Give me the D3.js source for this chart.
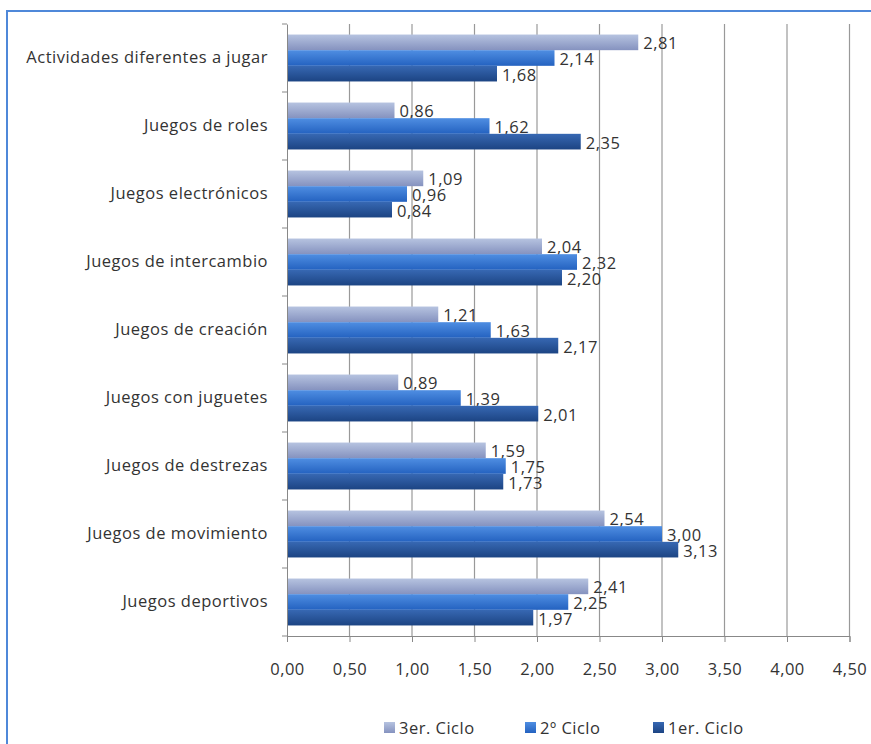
<!DOCTYPE html>
<html>
<head>
<meta charset="utf-8">
<script src="https://cdn.jsdelivr.net/npm/d3@7"></script>
<style>
  body { margin: 0; background: #fff; }
  text { font-family: "Open Sans", sans-serif; fill: #333; letter-spacing: 0.5px; }
</style>
</head>
<body>
<svg id="chart" width="871" height="744"></svg>
<script>
// categories, top to bottom
var categories = [
  "Actividades diferentes a jugar",
  "Juegos de roles",
  "Juegos electrónicos",
  "Juegos de intercambio",
  "Juegos de creación",
  "Juegos con juguetes",
  "Juegos de destrezas",
  "Juegos de movimiento",
  "Juegos deportivos"
];
var seriesNames = ["3er. Ciclo", "2º Ciclo", "1er. Ciclo"];
var tercerCiclo = [2.81, 0.86, 1.09, 2.04, 1.21, 0.89, 1.59, 2.54, 2.41];
var segundoCiclo = [2.14, 1.62, 0.96, 2.32, 1.63, 1.39, 1.75, 3.00, 2.25];
var primerCiclo = [1.68, 2.35, 0.84, 2.20, 2.17, 2.01, 1.73, 3.13, 1.97];
var xTicks = [0, 0.5, 1, 1.5, 2, 2.5, 3, 3.5, 4, 4.5];

var series = [tercerCiclo, segundoCiclo, primerCiclo];
var colors = [
  ["#b6c3e0", "#8592bf"],
  ["#4f8ee2", "#2462c0"],
  ["#3768b3", "#1c4483"]
];

var svg = d3.select('#chart');
var fmt = function(v) { return d3.format('.2f')(v).replace('.', ','); };

// frame
svg.append('rect')
    .attr('x', 7).attr('y', 11)
    .attr('width', 900).attr('height', 800)
    .attr('fill', 'none')
    .attr('stroke', '#4f88d9')
    .attr('stroke-width', 2);

var plotLeft = 287, plotRight = 849.5, plotTop = 24, plotBottom = 636;

var x = d3.scaleLinear().domain([0, 4.5]).range([plotLeft, plotRight]);
var y = d3.scaleBand().domain(categories).range([plotTop, plotBottom])
    .paddingInner(0.31).paddingOuter(0.155);
var ySub = d3.scaleBand().domain(d3.range(3)).range([0, y.bandwidth()]);

// gradients
var defs = svg.append('defs');
colors.forEach(function(c, i) {
  var g = defs.append('linearGradient')
      .attr('id', 'grad' + i)
      .attr('x1', 0).attr('y1', 0).attr('x2', 0).attr('y2', 1);
  g.append('stop').attr('offset', '0%').attr('stop-color', c[0]);
  g.append('stop').attr('offset', '100%').attr('stop-color', c[1]);
});

// gridlines
svg.append('g').selectAll('line')
    .data(xTicks.slice(1))
    .enter().append('line')
    .attr('x1', function(d) { return x(d); })
    .attr('x2', function(d) { return x(d); })
    .attr('y1', plotTop).attr('y2', plotBottom)
    .attr('stroke', '#999')
    .attr('stroke-width', 1.2);

// bars
var groups = svg.append('g').selectAll('g')
    .data(categories)
    .enter().append('g')
    .attr('transform', function(d) { return 'translate(0,' + y(d) + ')'; });

series.forEach(function(values, si) {
  groups.append('rect')
      .attr('x', x(0))
      .attr('y', ySub(si))
      .attr('width', function(d, i) { return x(values[i]) - x(0); })
      .attr('height', ySub.bandwidth())
      .attr('fill', 'url(#grad' + si + ')');

  groups.append('text')
      .attr('x', function(d, i) { return x(values[i]) + 5; })
      .attr('y', ySub(si) + ySub.bandwidth() / 2 + 7)
      .attr('font-size', 16.5)
      .text(function(d, i) { return fmt(values[i]); });
});

// y axis
var yAxis = svg.append('g')
    .attr('transform', 'translate(' + plotLeft + ',0)')
    .call(d3.axisLeft(y).tickSize(0).tickPadding(19));
yAxis.select('.domain').attr('stroke', '#888');
yAxis.selectAll('text').attr('font-size', 16.5).attr('fill', '#333')
    .attr('font-family', '"Open Sans", sans-serif');
var step = y.step();
yAxis.append('g').selectAll('line')
    .data(d3.range(categories.length + 1))
    .enter().append('line')
    .attr('x1', -5).attr('x2', 0)
    .attr('y1', function(i) { return plotTop + i * step; })
    .attr('y2', function(i) { return plotTop + i * step; })
    .attr('stroke', '#888');

// x axis
var xAxis = svg.append('g')
    .attr('transform', 'translate(0,' + plotBottom + ')')
    .call(d3.axisBottom(x).tickValues(xTicks).tickSize(6).tickPadding(21)
        .tickFormat(fmt));
xAxis.select('.domain').attr('stroke', '#888');
xAxis.selectAll('.tick line').attr('stroke', '#888');
xAxis.selectAll('text').attr('font-size', 16.5).attr('fill', '#333')
    .attr('font-family', '"Open Sans", sans-serif');

// legend
var legendX = [384, 525, 653];
var legend = svg.append('g').selectAll('g')
    .data(seriesNames)
    .enter().append('g')
    .attr('transform', function(d, i) { return 'translate(' + legendX[i] + ',728)'; });
legend.append('rect')
    .attr('x', 0).attr('y', -6)
    .attr('width', 11).attr('height', 11)
    .attr('fill', function(d, i) { return 'url(#grad' + i + ')'; });
legend.append('text')
    .attr('x', 15).attr('y', 6)
    .attr('font-size', 16.5)
    .text(function(d) { return d; });
</script>
</body>
</html>
